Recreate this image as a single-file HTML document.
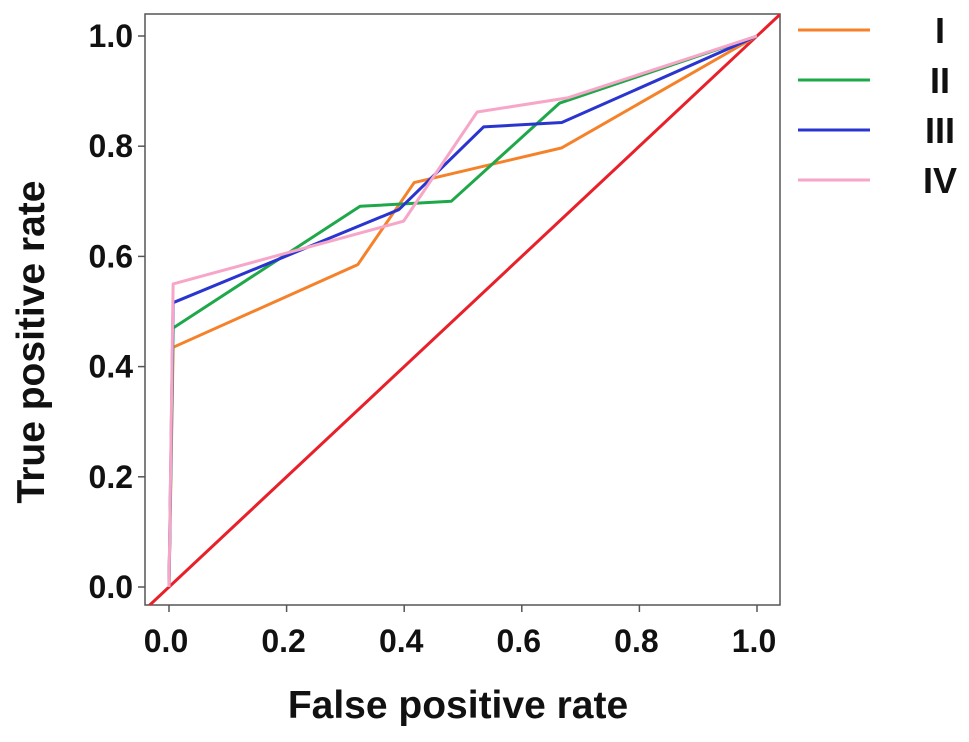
<!DOCTYPE html>
<html><head><meta charset="utf-8"><style>
body{margin:0;background:#fff;}
svg text{font-family:"Liberation Sans",Arial,sans-serif;font-weight:bold;fill:#111;}
</style></head><body>
<svg id="chart" width="969" height="737" xmlns="http://www.w3.org/2000/svg">
<defs><clipPath id="pc"><rect x="145" y="14" width="635" height="591"/></clipPath></defs>
<rect x="145" y="14" width="635" height="591" fill="#fff" stroke="#555" stroke-width="1.5"/>
<g id="axes"></g>
<g id="series" clip-path="url(#pc)"></g>
<g id="legend"></g>
<text transform="translate(44,342) rotate(-90)" text-anchor="middle" font-size="39">True positive rate</text>
<text x="458" y="718" text-anchor="middle" font-size="39">False positive rate</text>
</svg>
<script>
const ticks=[0,0.2,0.4,0.6,0.8,1.0];
const tickLabels=["0.0","0.2","0.4","0.6","0.8","1.0"];
const seriesNames=["I","II","III","IV"];
const seriesColors=["#f5822a","#1fa84a","#2a35d0","#f7a6c8"];
const xI=[0,0.007,0.321,0.417,0.668,1];
const yI=[0,0.435,0.585,0.734,0.797,1];
const xII=[0,0.007,0.325,0.48,0.664,1];
const yII=[0,0.47,0.691,0.70,0.878,1];
const xIII=[0,0.007,0.391,0.535,0.668,1];
const yIII=[0,0.516,0.685,0.835,0.843,1];
const xIV=[0,0.007,0.399,0.524,0.679,1];
const yIV=[0,0.55,0.664,0.862,0.888,1];
const refX=[-0.05,1.05];
const refY=[-0.05,1.05];
const NS="http://www.w3.org/2000/svg";
const sx=v=>169+588*v, sy=v=>587-551*v;
const axes=document.getElementById('axes');
function mk(tag,attrs,parent){const e=document.createElementNS(NS,tag);for(const k in attrs)e.setAttribute(k,attrs[k]);parent.appendChild(e);return e;}
ticks.forEach((t,i)=>{
 let l=mk('line',{x1:sx(t),x2:sx(t),y1:605,y2:612,stroke:'#555','stroke-width':1.5},axes);
 
 
 let tx=mk('text',{x:sx(t)-3,y:652,'text-anchor':'middle','font-size':32},axes);tx.textContent=tickLabels[i];
 
 
 let l2=mk('line',{x1:138,x2:145,y1:sy(t),y2:sy(t),stroke:'#555','stroke-width':1.5},axes);
 
 
 let ty=mk('text',{x:133,y:sy(t)+11,'text-anchor':'end','font-size':32},axes);ty.textContent=tickLabels[i];
 
 
});
const ser=document.getElementById('series');
let ref=mk('polyline',{points:refX.map((x,i)=>sx(x)+','+sy(refY[i])).join(' '),fill:'none',stroke:'#e8202a','stroke-width':3},ser);


const xs=[xI,xII,xIII,xIV], ys=[yI,yII,yIII,yIV];
xs.forEach((xa,k)=>{
 let p=mk('polyline',{points:xa.map((x,i)=>sx(x)+','+sy(ys[k][i])).join(' '),fill:'none',stroke:seriesColors[k],'stroke-width':3,'stroke-linejoin':'round'},ser);
 
 
});
const lg=document.getElementById('legend');
seriesNames.forEach((n,k)=>{
 const y=30+50*k;
 let l=mk('line',{x1:798,x2:870,y1:y,y2:y,stroke:seriesColors[k],'stroke-width':3},lg);
 
 
 let t=mk('text',{x:940,y:y+13,'text-anchor':'middle','font-size':36},lg);t.textContent=n;
 
 
});
</script>
</body></html>
